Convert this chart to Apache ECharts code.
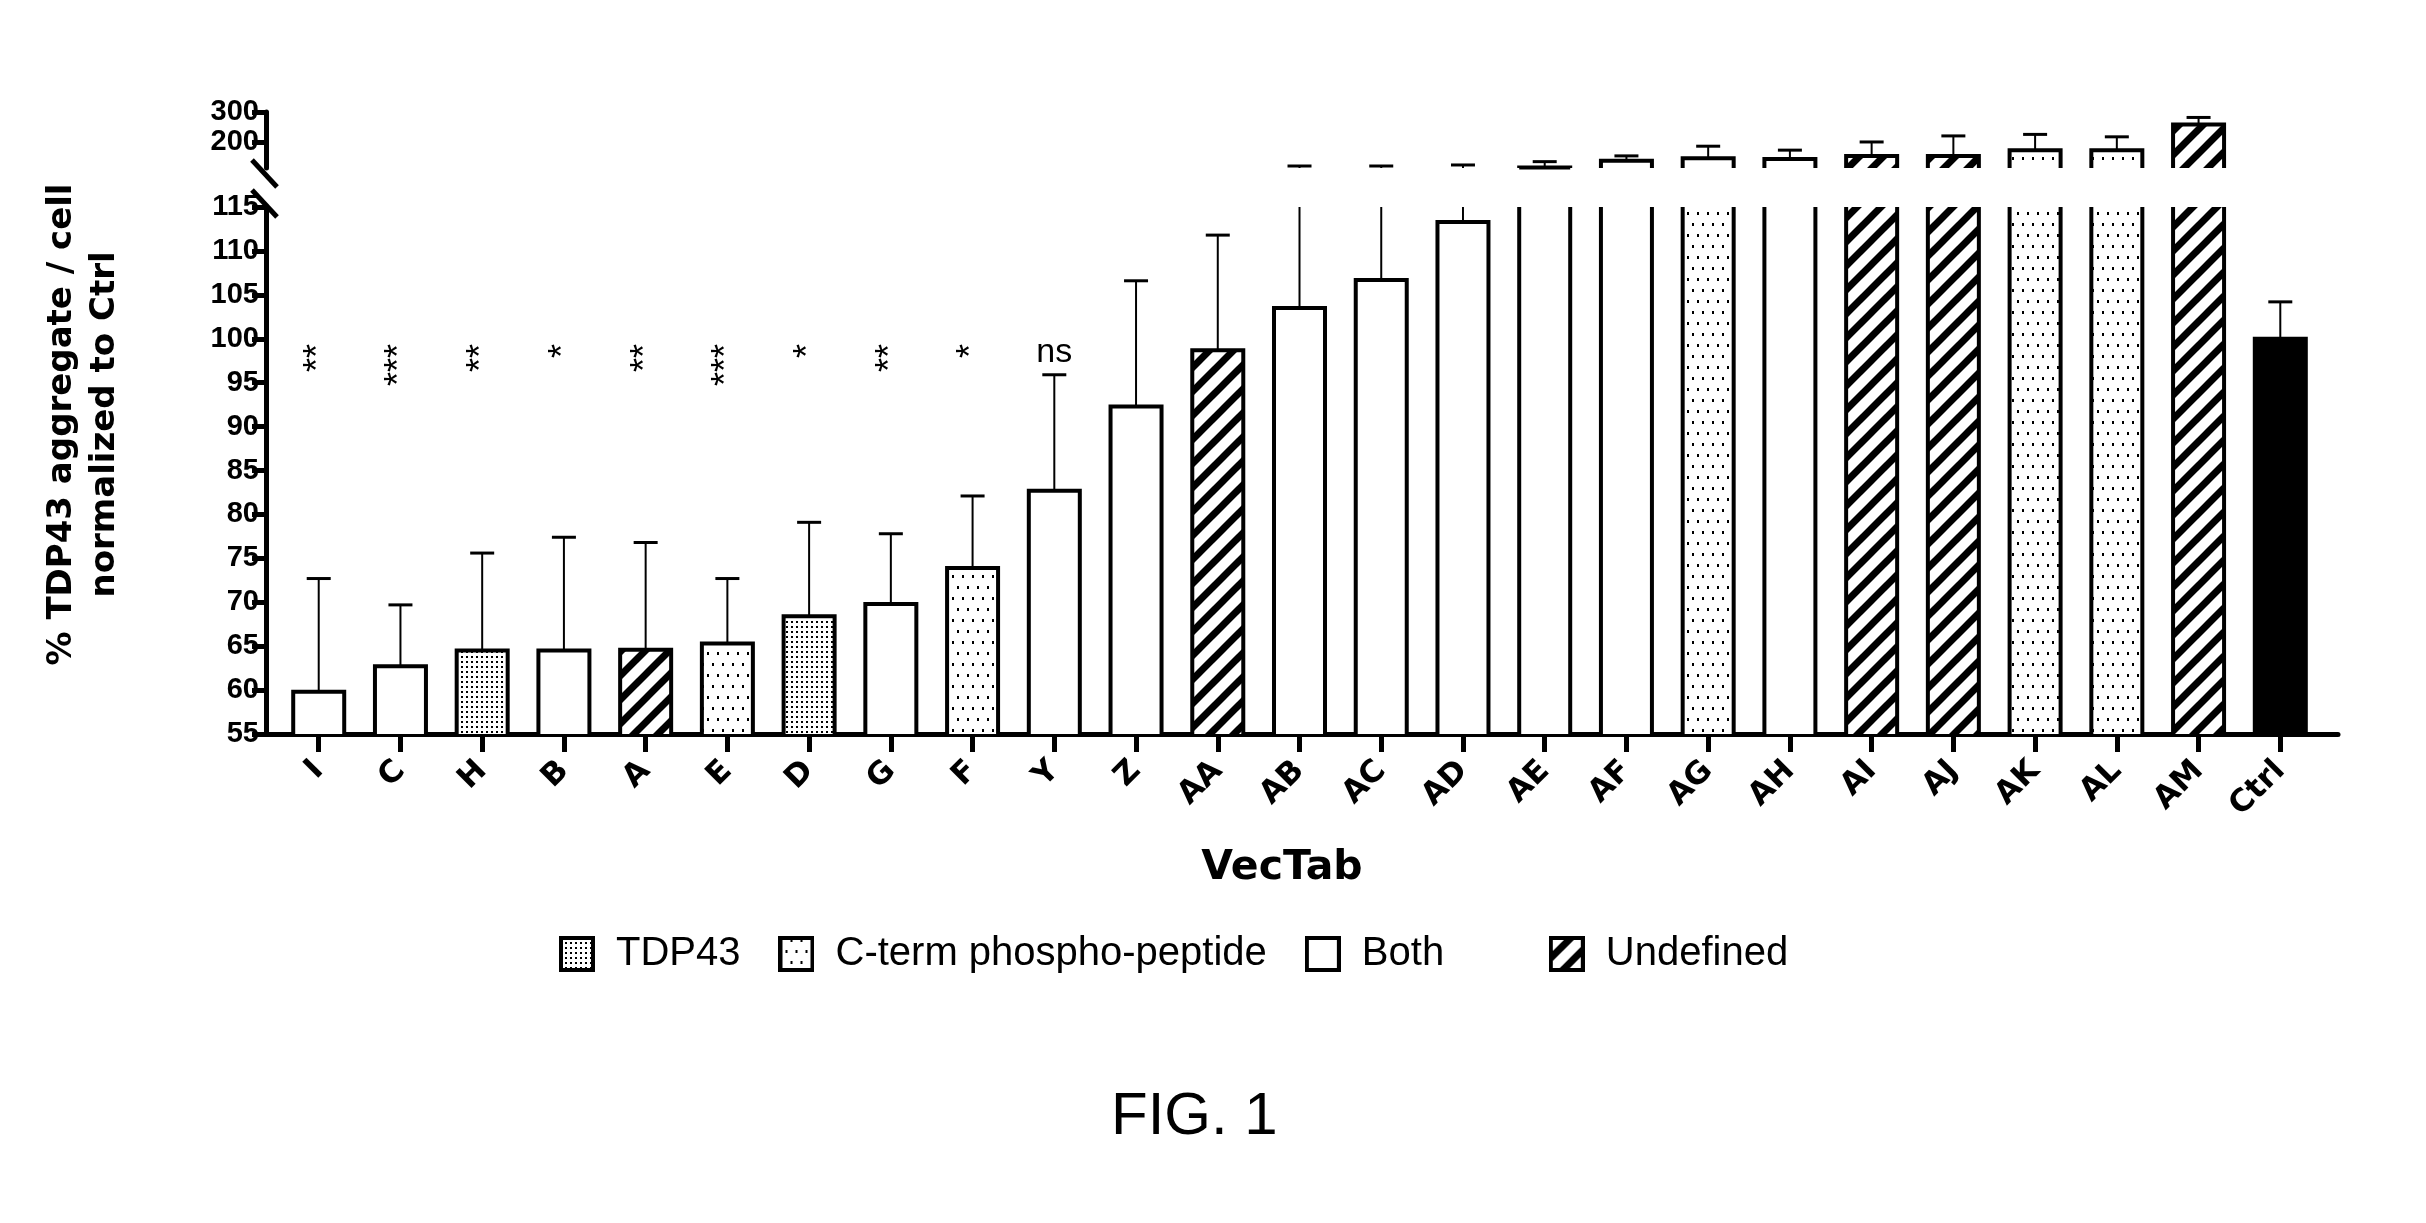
<!DOCTYPE html>
<html>
<head>
<meta charset="utf-8">
<title>FIG. 1</title>
<script src="https://cdn.jsdelivr.net/npm/echarts@6.0.0/dist/echarts.min.js"></script>
<style>
  html, body { margin: 0; padding: 0; background: #fff; }
  #main { width: 2426px; height: 1223px; }
</style>
</head>
<body>
<div id="main"></div>
<script>
// data
var categories = ['I', 'C', 'H', 'B', 'A', 'E', 'D', 'G', 'F', 'Y', 'Z', 'AA', 'AB', 'AC', 'AD',
  'AE', 'AF', 'AG', 'AH', 'AI', 'AJ', 'AK', 'AL', 'AM', 'Ctrl'];
var means = [59.8, 62.7, 64.5, 64.5, 64.6, 65.3, 68.4, 69.8, 73.9, 82.7, 92.3, 98.7, 103.5, 106.7, 113.3,
  117, 139, 147, 145, 154.5, 154.5, 174, 174, 259, 100];
var sds = [12.9, 7.0, 11.1, 12.9, 12.2, 7.4, 10.7, 8.0, 8.2, 13.2, 14.3, 13.1, 18.1, 14.9, 11.7,
  19, 16, 40, 29, 46.5, 66.5, 52, 44, 23, 4.2];
var groups = ['Both', 'Both', 'TDP43', 'Both', 'Undefined', 'C-term phospho-peptide', 'TDP43', 'Both',
  'C-term phospho-peptide', 'Both', 'Both', 'Undefined', 'Both', 'Both', 'Both', 'Both', 'Both',
  'C-term phospho-peptide', 'Both', 'Undefined', 'Undefined', 'C-term phospho-peptide',
  'C-term phospho-peptide', 'Undefined', 'Ctrl'];
var signif = ['**', '***', '**', '*', '**', '***', '*', '**', '*', 'ns'];
var legendNames = ['TDP43', 'C-term phospho-peptide', 'Both', 'Undefined'];
var groupNames = ['TDP43', 'C-term phospho-peptide', 'Both', 'Undefined', 'Ctrl'];
var lowerRange = [55, 115];
var upperRange = [115, 300];
var upperTicks = [200, 300];

var BAR_W = 51;
var X_MIN = -0.645, X_MAX = 24.706;

function makeTile(w, h, draw) {
  var c = document.createElement('canvas');
  c.width = w; c.height = h;
  var ctx = c.getContext('2d');
  ctx.fillStyle = '#fff';
  ctx.fillRect(0, 0, w, h);
  ctx.fillStyle = '#000';
  ctx.strokeStyle = '#000';
  draw(ctx, w, h);
  return c;
}

var tiles = {
  'TDP43': makeTile(5, 5, function (ctx) { ctx.fillRect(1, 1, 2, 2); }),
  'C-term phospho-peptide': makeTile(10, 22, function (ctx) {
    ctx.fillRect(2, 3, 2, 3);
    ctx.fillRect(7, 14, 2, 3);
  }),
  'Undefined': makeTile(24, 24, function (ctx, w, h) {
    ctx.lineWidth = 7;
    for (var k = -1; k <= 1; k++) {
      ctx.beginPath();
      ctx.moveTo(k * w - 3, h + 3);
      ctx.lineTo(k * w + w + 3, -3);
      ctx.stroke();
    }
  })
};

function fillOf(name) {
  if (name === 'Both') return '#fff';
  if (name === 'Ctrl') return '#000';
  return { type: 'pattern', image: tiles[name], repeat: 'repeat' };
}

function legendIcon(name) {
  var c = document.createElement('canvas');
  c.width = 36; c.height = 36;
  var ctx = c.getContext('2d');
  ctx.fillStyle = tiles[name] ? ctx.createPattern(tiles[name], 'repeat') : '#fff';
  ctx.fillRect(0, 0, 36, 36);
  ctx.lineWidth = 4;
  ctx.strokeStyle = '#000';
  ctx.strokeRect(2, 2, 32, 32);
  return 'image://' + c.toDataURL();
}

function ranges(gi) { return gi === 0 ? upperRange : lowerRange; }

function barRenderer(gi, name) {
  return function (params, api) {
    var r = ranges(gi);
    var i = api.value(0), v = api.value(1);
    if (v <= r[0]) return;
    var top = Math.min(v, r[1]);
    var pb = api.coord([i, r[0]]);
    var pt = api.coord([i, top]);
    var l = pb[0] - BAR_W / 2, rr = pb[0] + BAR_W / 2;
    var children = [{
      type: 'rect',
      shape: { x: l, y: pt[1], width: BAR_W, height: pb[1] - pt[1] },
      style: { fill: fillOf(name) }
    }];
    var edge = { stroke: '#000', lineWidth: 4, fill: null };
    if (v > r[1]) {
      children.push({ type: 'line', shape: { x1: l, y1: pb[1], x2: l, y2: pt[1] }, style: edge });
      children.push({ type: 'line', shape: { x1: rr, y1: pb[1], x2: rr, y2: pt[1] }, style: edge });
    } else {
      children.push({ type: 'polyline', shape: { points: [[l, pb[1]], [l, pt[1]], [rr, pt[1]], [rr, pb[1]]] }, style: edge });
    }
    return { type: 'group', children: children };
  };
}

function errRenderer(gi) {
  return function (params, api) {
    var r = ranges(gi);
    var i = api.value(0), m = api.value(1), t = api.value(2);
    var y0 = Math.max(m, r[0]), y1 = Math.min(t, r[1]);
    if (y1 <= y0) return;
    var p0 = api.coord([i, y0]), p1 = api.coord([i, y1]);
    var children = [{ type: 'line', shape: { x1: p0[0], y1: p0[1], x2: p1[0], y2: p1[1] }, style: { stroke: '#000', lineWidth: 2 } }];
    if (t <= r[1]) {
      children.push({ type: 'line', shape: { x1: p1[0] - 12, y1: p1[1], x2: p1[0] + 12, y2: p1[1] }, style: { stroke: '#000', lineWidth: 3 } });
    }
    return { type: 'group', children: children };
  };
}

function sigRenderer(params, api) {
  var i = api.value(0);
  var s = signif[i];
  if (s === 'ns') {
    var pn = api.coord([i, 98.4]);
    return { type: 'text', x: pn[0], y: pn[1], style: { text: s, font: '34px "Liberation Sans"', align: 'center', verticalAlign: 'middle', fill: '#000' } };
  }
  var p = api.coord([i, 99.4]);
  return { type: 'text', x: p[0], y: p[1], rotation: Math.PI / 2, style: { text: s, font: '36px "Liberation Sans"', align: 'right', verticalAlign: 'middle', fill: '#000' } };
}

var series = [];
[0, 1].forEach(function (gi) {
  groupNames.forEach(function (name) {
    var data = [];
    categories.forEach(function (c, i) { if (groups[i] === name) data.push([i, means[i]]); });
    series.push({
      type: 'custom', name: name, xAxisIndex: gi, yAxisIndex: gi,
      renderItem: barRenderer(gi, name), data: data, silent: true
    });
  });
  series.push({
    type: 'custom', name: 'err' + gi, xAxisIndex: gi, yAxisIndex: gi,
    renderItem: errRenderer(gi), silent: true,
    data: categories.map(function (c, i) { return [i, means[i], means[i] + sds[i]]; })
  });
});
series.push({
  type: 'custom', name: 'sig', xAxisIndex: 1, yAxisIndex: 1, renderItem: sigRenderer, silent: true,
  data: signif.map(function (s, i) { return [i, 100]; })
});

var idx = categories.map(function (c, i) { return i; });
var axisLineStyle = { color: '#000', width: 5 };
var tickFont = { fontFamily: '"Liberation Sans Narrow", "Liberation Sans", Arial', fontWeight: 'bold', fontSize: 29, color: '#000' };

var option = {
  animation: false,
  backgroundColor: '#fff',
  title: {
    text: 'FIG. 1', left: 1106, top: 1082,
    textStyle: { fontFamily: 'Liberation Sans', fontWeight: 'normal', fontSize: 60, color: '#000' }
  },
  legend: {
    left: 554, top: 929, itemWidth: 36, itemHeight: 36, itemGap: 38, selectedMode: false,
    data: legendNames.map(function (n) { return { name: n, icon: legendIcon(n) }; }),
    // extra room after "Both", as in the figure
    formatter: function (name) { return name === 'Both' ? 'Both      ' : name; },
    textStyle: { fontFamily: 'Liberation Sans', fontSize: 40, color: '#000', padding: [0, 0, 0, 16] }
  },
  grid: [
    { left: 266, right: 88, top: 112, height: 56, containLabel: false, outerBoundsMode: 'none' },
    { left: 266, right: 88, top: 207, height: 527, containLabel: false, outerBoundsMode: 'none' }
  ],
  xAxis: [
    { gridIndex: 0, type: 'value', min: X_MIN, max: X_MAX, show: false },
    {
      gridIndex: 1, type: 'value', min: X_MIN, max: X_MAX,
      axisLine: { show: true, onZero: false, lineStyle: axisLineStyle },
      axisTick: { show: true, customValues: idx, length: 18, lineStyle: axisLineStyle },
      axisLabel: {
        customValues: idx, rotate: 45, margin: 32,
        formatter: function (v) { return categories[Math.round(v)]; },
        fontFamily: 'DejaVu Sans', fontWeight: 'bold', fontSize: 31, color: '#000'
      },
      splitLine: { show: false },
      name: 'VecTab', nameLocation: 'middle', nameGap: 114,
      nameTextStyle: { fontFamily: 'DejaVu Sans', fontWeight: 'bold', fontSize: 41, color: '#000', padding: [0, 40, 0, 0] }
    }
  ],
  yAxis: [
    {
      gridIndex: 0, type: 'value', min: upperRange[0], max: upperRange[1],
      axisLine: { show: true, onZero: false, lineStyle: axisLineStyle },
      axisTick: { show: true, customValues: upperTicks, length: 14, lineStyle: axisLineStyle },
      axisLabel: Object.assign({ customValues: upperTicks, margin: 7 }, tickFont),
      splitLine: { show: false }
    },
    {
      gridIndex: 1, type: 'value', min: lowerRange[0], max: lowerRange[1], interval: 5,
      axisLine: { show: true, onZero: false, lineStyle: axisLineStyle },
      axisTick: { show: true, length: 14, lineStyle: axisLineStyle },
      axisLabel: Object.assign({ margin: 7 }, tickFont),
      splitLine: { show: false },
      name: '% TDP43 aggregate / cell\nnormalized to Ctrl',
      nameLocation: 'middle', nameRotate: 90, nameGap: 139,
      nameTextStyle: {
        fontFamily: 'DejaVu Sans', fontWeight: 'bold', fontSize: 34, lineHeight: 43,
        color: '#000', align: 'center', padding: [0, 0, 0, 92]
      }
    }
  ],
  graphic: [
    { type: 'line', shape: { x1: 252, y1: 160, x2: 277, y2: 187 }, style: { stroke: '#000', lineWidth: 5 } },
    { type: 'line', shape: { x1: 252, y1: 190, x2: 277, y2: 217 }, style: { stroke: '#000', lineWidth: 5 } }
  ],
  series: series
};

var chart = echarts.init(document.getElementById('main'));
chart.setOption(option);
</script>
</body>
</html>
